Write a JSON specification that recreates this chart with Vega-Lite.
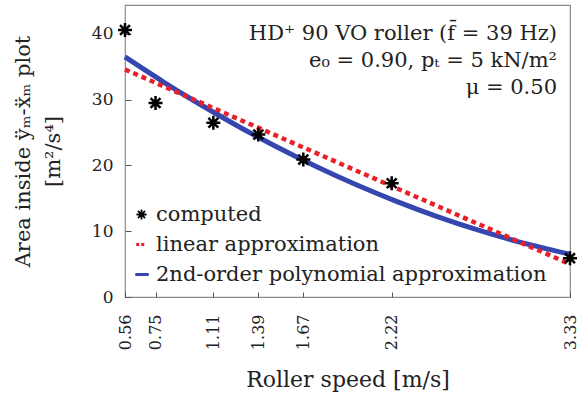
{
  "$schema": "https://vega.github.io/schema/vega-lite/v6.json",
  "width": 445,
  "height": 292,
  "autosize": {"type": "none"},
  "padding": {"left": 125, "top": 5, "right": 8, "bottom": 100},
  "background": "white",
  "title": {
    "text": ["HD⁺ 90 VO roller (f̄ = 39 Hz)", "e₀ = 0.90, pₜ = 5 kN/m²", "μ = 0.50"],
    "orient": "top", "anchor": "end", "align": "right", "frame": "group",
    "offset": -93, "dx": -13, "font": "DejaVu Serif", "fontSize": 21, "fontWeight": "normal", "lineHeight": 27, "color": "#222"
  },
  "config": {
    "view": {"stroke": "#8a8a8a", "strokeWidth": 1.2},
    "font": "DejaVu Serif",
    "axis": {"domain": false, "grid": false, "labelFont": "DejaVu Serif", "titleFont": "DejaVu Serif", "labelColor": "#222", "titleColor": "#222", "tickColor": "#555", "tickWidth": 1, "titleFontWeight": "normal"},
    "legend": {"labelFont": "DejaVu Serif"}
  },
  "datasets": {
    "computed": [
      {"speed": 0.56, "area": 40.6, "series": "computed"},
      {"speed": 0.75, "area": 29.5, "series": "computed"},
      {"speed": 1.11, "area": 26.5, "series": "computed"},
      {"speed": 1.39, "area": 24.7, "series": "computed"},
      {"speed": 1.67, "area": 20.9, "series": "computed"},
      {"speed": 2.22, "area": 17.3, "series": "computed"},
      {"speed": 3.33, "area": 5.9, "series": "computed"}
    ],
    "linear": [
      {"speed": 0.56, "area": 34.6},
      {"speed": 3.33, "area": 5.0}
    ],
    "poly": [
      {"speed": 0.56, "area": 36.5},
      {"speed": 0.8, "area": 32.69},
      {"speed": 1.0, "area": 29.69},
      {"speed": 1.25, "area": 26.16},
      {"speed": 1.5, "area": 22.88},
      {"speed": 1.75, "area": 19.85},
      {"speed": 2.0, "area": 17.07},
      {"speed": 2.25, "area": 14.55},
      {"speed": 2.5, "area": 12.27},
      {"speed": 2.75, "area": 10.24},
      {"speed": 3.0, "area": 8.46},
      {"speed": 3.33, "area": 6.5}
    ]
  },
  "encoding": {
    "x": {"field": "speed", "type": "quantitative", "scale": {"domain": [0.56, 3.33], "nice": false, "zero": false},
      "axis": {"values": [0.56, 0.75, 1.11, 1.39, 1.67, 2.22, 3.33], "format": ".2f", "labelAngle": -90, "labelAlign": "right", "labelBaseline": "middle", "labelFontSize": 16, "tickSize": -5, "labelPadding": 22, "title": "Roller speed [m/s]", "titleFontSize": 22, "titlePadding": 20}},
    "y": {"field": "area", "type": "quantitative", "scale": {"domain": [0, 44.4], "nice": false},
      "axis": {"values": [0, 10, 20, 30, 40], "labelFontSize": 17, "tickSize": -6, "labelPadding": 18, "title": ["Area inside ÿₘ-ẍₘ plot", "[m²/s⁴]"], "titleFontSize": 21, "titleLineHeight": 30, "titlePadding": 28}}
  },
  "layer": [
    {
      "data": {"name": "poly"},
      "mark": {"type": "line", "color": "#3646b0", "strokeWidth": 5, "interpolate": "monotone"}
    },
    {
      "data": {"name": "linear"},
      "mark": {"type": "line", "color": "#e8202a", "strokeWidth": 4.5, "strokeDash": [5, 4]}
    },
    {
      "data": {"name": "computed"},
      "mark": {"type": "point", "filled": true, "size": 196, "opacity": 1},
      "encoding": {
        "color": {"field": "series", "type": "nominal",
          "scale": {"domain": ["computed", "linear approximation", "2nd-order polynomial approximation"], "range": ["#000000", "#e8202a", "#3646b0"]},
          "legend": {"title": null, "orient": "none", "legendX": 6, "legendY": 199, "labelFontSize": 21, "labelColor": "#222", "labelLimit": 0, "rowPadding": 8, "labelOffset": 4, "padding": 0, "symbolStrokeWidth": 0}},
        "shape": {"field": "series", "type": "nominal",
          "scale": {"domain": ["computed", "linear approximation", "2nd-order polynomial approximation"], "range": [
            "M-1,-0.18H1V0.18H-1Z M-0.18,-1H0.18V1H-0.18Z M-0.58,-0.834L0.834,0.58L0.58,0.834L-0.834,-0.58Z M-0.834,0.58L0.58,-0.834L0.834,-0.58L-0.58,0.834Z",
            "M-1.05,-0.3H-0.45V0.3H-1.05Z M-0.05,-0.3H0.55V0.3H-0.05Z",
            "M-1.25,-0.3H1.45V0.3H-1.25Z"
          ]},
          "legend": {"title": null, "orient": "none", "legendX": 6, "legendY": 199}}
      }
    }
  ]
}
